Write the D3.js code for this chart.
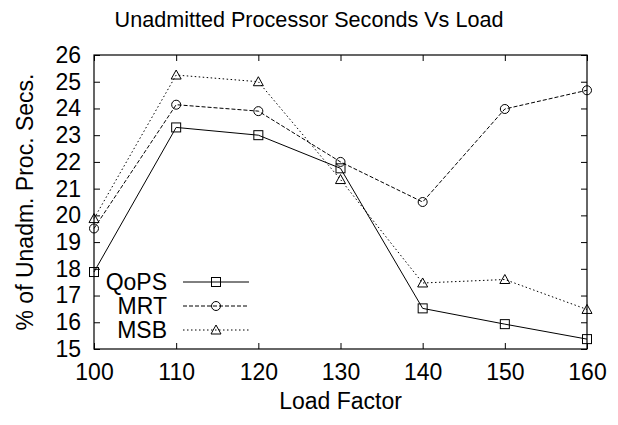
<!doctype html>
<html lang="en">
<head>
  <meta charset="utf-8">
  <title>Unadmitted Processor Seconds Vs Load</title>
  <style>
    body { margin: 0; background: #fff; }
    svg { display: block; font-family: "Liberation Sans", Arial, sans-serif; }
    .frame { fill: none; stroke: #000; stroke-width: 1.2; }
    .tick line { stroke: #000; stroke-width: 1; }
    .series { fill: none; stroke: #000; stroke-width: 1; }
    .marker { fill: none; stroke: #000; stroke-width: 1; }
  </style>
</head>
<body>
  <script src="https://cdn.jsdelivr.net/npm/d3@7"></script>
  <script>

  // data
  var loads = [100, 110, 120, 130, 140, 150, 160];
  var qops = [17.88, 23.29, 23.0, 21.76, 16.52, 15.93, 15.37];
  var mrt  = [19.51, 24.14, 23.9, 22.0, 20.5, 23.98, 24.68];
  var msb  = [19.88, 25.25, 25.0, 21.34, 17.47, 17.6, 16.48];
  var xTicks = [100, 110, 120, 130, 140, 150, 160];
  var yTicks = [15, 16, 17, 18, 19, 20, 21, 22, 23, 24, 25, 26];
  var seriesNames = ["QoPS", "MRT", "MSB"];

  var W = 618, H = 425;
  // plot box (named so they don't clash with window.top)
  var plotL = 94, plotR = 587, plotT = 55, plotB = 349;

  var svg = d3.select("body").append("svg")
      .attr("width", W)
      .attr("height", H);

  var x = d3.scaleLinear().domain([100, 160]).range([plotL, plotR]);
  var y = d3.scaleLinear().domain([15, 26]).range([plotB, plotT]);

  // ticks on all four sides, pointing inward
  var tickLen = 6;
  svg.append("g")
      .attr("transform", "translate(0," + plotB + ")")
      .call(d3.axisBottom(x).tickValues(xTicks).tickSize(-tickLen).tickPadding(15))
      .call(function(g){ g.select(".domain").remove(); });
  svg.append("g")
      .attr("transform", "translate(0," + plotT + ")")
      .call(d3.axisTop(x).tickValues(xTicks).tickSize(-tickLen).tickFormat(""))
      .call(function(g){ g.select(".domain").remove(); });
  svg.append("g")
      .attr("transform", "translate(" + plotL + ",0)")
      .call(d3.axisLeft(y).tickValues(yTicks).tickSize(-tickLen).tickPadding(13))
      .call(function(g){ g.select(".domain").remove(); });
  svg.append("g")
      .attr("transform", "translate(" + plotR + ",0)")
      .call(d3.axisRight(y).tickValues(yTicks).tickSize(-tickLen).tickFormat(""))
      .call(function(g){ g.select(".domain").remove(); });

  svg.selectAll(".tick text")
      .attr("font-size", 23)
      .attr("font-family", "Liberation Sans, Arial, sans-serif")
      .attr("fill", "#000");

  svg.append("rect")
      .attr("class", "frame")
      .attr("x", plotL).attr("y", plotT)
      .attr("width", plotR - plotL).attr("height", plotB - plotT);

  // titles
  svg.append("text")
      .attr("x", W / 2).attr("y", 27)
      .attr("text-anchor", "middle")
      .attr("font-size", 21.6)
      .text("Unadmitted Processor Seconds Vs Load");

  svg.append("text")
      .attr("x", (plotL + plotR) / 2).attr("y", 409)
      .attr("text-anchor", "middle")
      .attr("font-size", 23)
      .text("Load Factor");

  svg.append("text")
      .attr("transform", "translate(33," + ((plotT + plotB) / 2) + ") rotate(-90)")
      .attr("text-anchor", "middle")
      .attr("font-size", 23)
      .text("% of Unadm. Proc. Secs.");

  // series styles
  var dashes = [null, "4,2", "1.5,2.5"];
  var shapes = ["square", "circle", "triangle"];
  var allValues = [qops, mrt, msb];

  var drawMarker = function(g, shape, cx, cy) {
    if (shape === "square") {
      g.append("rect").attr("class", "marker")
        .attr("x", cx - 4.5).attr("y", cy - 4.5)
        .attr("width", 9).attr("height", 9);
    } else if (shape === "circle") {
      g.append("circle").attr("class", "marker")
        .attr("cx", cx).attr("cy", cy).attr("r", 4.5);
    } else {
      g.append("path").attr("class", "marker")
        .attr("d", "M" + cx + "," + (cy - 5) + "L" + (cx + 5) + "," + (cy + 4) +
                   "L" + (cx - 5) + "," + (cy + 4) + "Z");
    }
  };

  var line = d3.line()
      .x(function(d){ return x(d[0]); })
      .y(function(d){ return y(d[1]); });

  allValues.forEach(function(vals, i) {
    var pts = loads.map(function(l, j){ return [l, vals[j]]; });
    var g = svg.append("g");
    g.append("path")
      .attr("class", "series")
      .attr("d", line(pts))
      .attr("stroke-dasharray", dashes[i]);
    pts.forEach(function(p){ drawMarker(g, shapes[i], x(p[0]), y(p[1])); });
  });

  // legend
  var legX = 167, legY0 = 282, legStep = 24;
  seriesNames.forEach(function(name, i) {
    var ly = legY0 + i * legStep;
    var g = svg.append("g");
    g.append("text")
      .attr("x", legX).attr("y", ly + 8)
      .attr("text-anchor", "end")
      .attr("font-size", 23)
      .text(name);
    g.append("line")
      .attr("class", "series")
      .attr("x1", 183).attr("x2", 249)
      .attr("y1", ly).attr("y2", ly)
      .attr("stroke-dasharray", dashes[i]);
    drawMarker(g, shapes[i], 216, ly);
  });

  </script>
</body>
</html>
